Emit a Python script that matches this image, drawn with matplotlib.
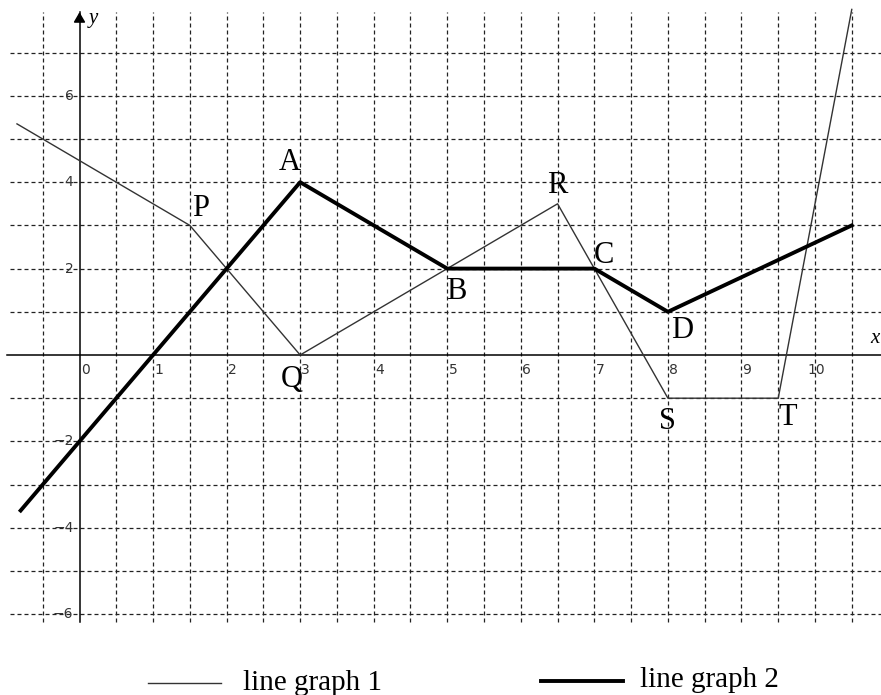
import matplotlib
matplotlib.use('Agg')
import matplotlib.pyplot as plt
from matplotlib.lines import Line2D

# data
line1_x = [-0.85, 1.5, 3, 6.5, 8, 9.5, 10.5]
line1_y = [5.35, 3, 0, 3.5, -1, -1, 8]
line2_x = [-0.8, 3, 5, 7, 8, 10.5]
line2_y = [-3.6, 4, 2, 2, 1, 3]

point_names = ['P', 'A', 'Q', 'B', 'R', 'C', 'D', 'S', 'T']
point_x = [1.5, 3, 3, 5, 6.5, 7, 8, 8, 9.5]
point_y = [3, 4, 0, 2, 3.5, 2, 1, -1, -1]
# where each letter sits relative to its point
label_dx = [0.14, -0.14, -0.12, 0.12, -0.01, 0.13, 0.2, -0.01, 0.13]
label_dy = [0.4, 0.46, -0.57, -0.52, 0.42, 0.3, -0.43, -0.55, -0.45]

x_ticks = list(range(0, 11))
y_ticks = [-6, -4, -2, 2, 4, 6]
legend_labels = ['line graph 1', 'line graph 2']

W, H = 881, 695
fig = plt.figure(figsize=(W / 100, H / 100), dpi=100)
ax = fig.add_axes([0, 0, 1, 1])
ux, x0 = 73.55, 79.5
uy, y0 = 43.2, 355
ax.set_xlim(-x0 / ux, (W - x0) / ux)
ax.set_ylim(-(H - y0) / uy, y0 / uy)
ax.axis('off')

grid_kw = dict(color='#222222', lw=0.9, dashes=(3.2, 2.4), zorder=1)
gx_left, gx_right = -0.945, 11.2
gy_bot, gy_top = -6.18, 7.94
for v in [i * 0.5 for i in range(-1, 22)]:
    if v != 0:
        ax.plot([v, v], [gy_bot, gy_top], **grid_kw)
for h in range(-6, 8):
    if h != 0:
        ax.plot([gx_left, gx_right], [h, h], **grid_kw)

# axes
ax.plot([-0.98, 11.2], [0, 0], color='black', lw=1.1, zorder=2)
ax.plot([0, 0], [gy_bot, 7.95], color='black', lw=1.1, zorder=2)
ax.annotate('', xy=(0, 8.0), xytext=(0, 7.7),
            arrowprops=dict(arrowstyle='-|>,head_length=0.6,head_width=0.35',
                            color='black', lw=1.1))
ax.text(0.12, 7.78, 'y', fontsize=15, style='italic', family='Liberation Serif',
        ha='left', va='center')
ax.text((W - 1 - x0) / ux, 0.38, 'x', fontsize=15, style='italic',
        family='Liberation Serif', ha='right', va='center')

for t in x_ticks:
    ax.text(t + 10 / ux, -0.19, str(t), fontsize=10, color='#333333',
            ha='right', va='top', zorder=3)
for t in y_ticks:
    ax.text(-6 / ux, t, '\u2212' + str(-t) if t < 0 else str(t), fontsize=10,
            color='#333333', ha='right', va='center', zorder=3)

ax.plot(line1_x, line1_y, color='#333333', lw=1.0, zorder=4)
ax.plot(line2_x, line2_y, color='black', lw=2.8, zorder=5)

for name, px, py, dx, dy in zip(point_names, point_x, point_y, label_dx, label_dy):
    ax.text(px + dx, py + dy, name, fontsize=22, family='Liberation Serif',
            ha='center', va='center', zorder=6)

# legend drawn by hand below the grid
fig.add_artist(Line2D([148 / W, 221 / W], [1 - 683 / H, 1 - 683 / H],
                      color='#333333', lw=1.0))
fig.text(243 / W, 1 - 690 / H, legend_labels[0], fontsize=21,
         family='Liberation Serif', ha='left', va='baseline')
fig.add_artist(Line2D([541 / W, 623 / W], [1 - 681 / H, 1 - 681 / H],
                      color='black', lw=2.8))
fig.text(640 / W, 1 - 687 / H, legend_labels[1], fontsize=21,
         family='Liberation Serif', ha='left', va='baseline')

fig.savefig('out.png', dpi=100)
